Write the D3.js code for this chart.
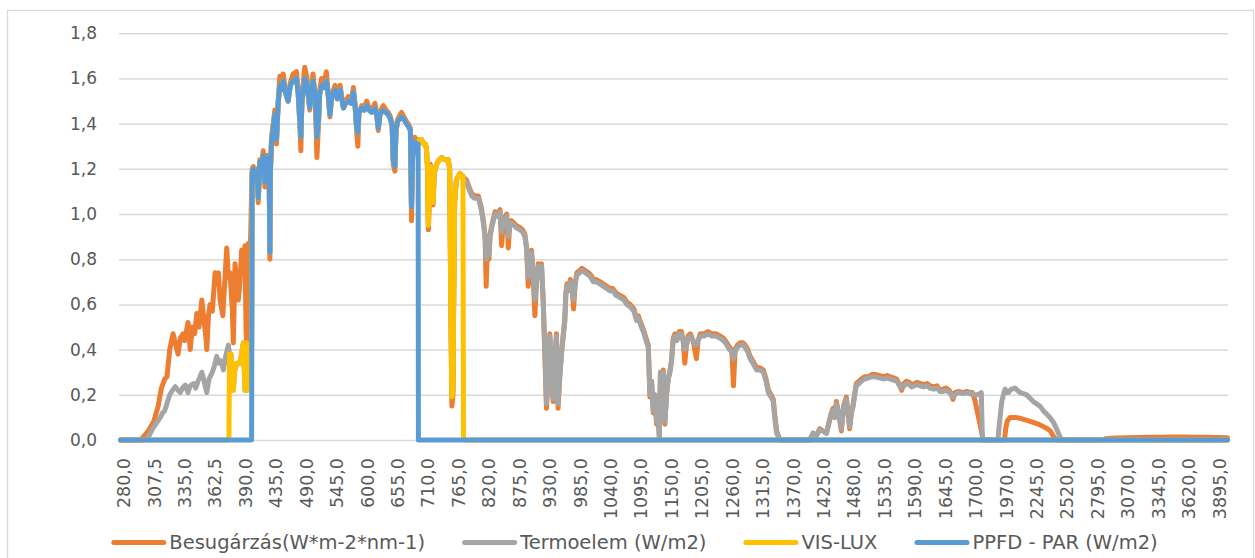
<!DOCTYPE html>
<html>
<head>
<meta charset="utf-8">
<script src="https://cdn.jsdelivr.net/npm/d3@7"></script>
<style>
  body { margin: 0; background: #fff; }
  text { font-family: "DejaVu Sans", sans-serif; fill: #595959; }
</style>
</head>
<body>
<div id="chart"></div>
<script>
// category axis: wavelength (nm) break points of the sampling grid -> category index
const gridNm = [280, 400, 1700, 1702, 1705, 4000];
const gridIdx = [0, 240, 1540, 1541, 1542, 2001];

// tick labels shown on the category axis (every 55th category)
const tickNm = [280, 307.5, 335, 362.5, 390, 435, 490, 545, 600, 655, 710, 765, 820, 875, 930, 985,
  1040, 1095, 1150, 1205, 1260, 1315, 1370, 1425, 1480, 1535, 1590, 1645, 1700,
  1970, 2245, 2520, 2795, 3070, 3345, 3620, 3895];

const yTicks = [0, 0.2, 0.4, 0.6, 0.8, 1.0, 1.2, 1.4, 1.6, 1.8];

// [nm, value]
const besugarzas = [
  [280,0],[298,0],[300,0.01],[305,0.04],[310,0.08],[314,0.15],[317,0.23],[320,0.27],[322,0.28],[324.5,0.4],
  [327.5,0.47],[330,0.42],[332,0.38],[334,0.45],[336.5,0.47],[338,0.44],[341,0.52],[343,0.4],[345,0.5],[347,0.47],
  [349,0.56],[351,0.5],[353.5,0.62],[355,0.55],[357.5,0.44],[358,0.4],[359.5,0.55],[361,0.6],[363,0.57],[365.5,0.74],
  [367,0.72],[368.5,0.74],[370,0.62],[372.5,0.55],[374,0.68],[376,0.85],[377.5,0.72],[379,0.74],[381,0.58],[382,0.43],
  [383.5,0.78],[385,0.7],[386.5,0.62],[388,0.7],[389.5,0.84],[391,0.8],[392.5,0.86],[393.5,0.48],[394,0.43],[395,0.8],
  [395.5,0.87],[396.5,0.5],[397.5,0.88],[398.5,1.1],[399,1.2],
  [400,1.21],[402,1.15],[405,1.18],[407,1.2],[409,1.05],[412,1.24],[415,1.22],[418,1.28],[421,1.12],[424,1.26],
  [427,1.25],[429,1.1],[430,0.8],[431,1.2],[433,1.34],[436,1.4],[439,1.46],[442,1.31],[445,1.5],[448,1.61],
  [451,1.56],[454,1.62],[458,1.55],[463,1.5],[467,1.58],[472,1.62],[478,1.63],[481,1.55],[484,1.4],[486,1.28],
  [488,1.52],[493,1.65],[497,1.6],[502,1.46],[505,1.55],[508,1.62],[512,1.52],[515,1.25],[518,1.4],[520,1.55],
  [523.5,1.6],[528,1.57],[532,1.63],[535,1.55],[538.5,1.43],[542,1.53],[548,1.57],[552,1.52],[557,1.57],[563,1.47],
  [567,1.5],[572,1.52],[577,1.5],[581,1.56],[584,1.48],[587,1.36],[589,1.3],[591,1.45],[596,1.48],[600,1.47],
  [605,1.5],[609,1.47],[614,1.46],[620,1.49],[623,1.45],[626,1.37],[629,1.45],[635,1.48],[640,1.46],[644,1.45],
  [648,1.43],[651,1.4],[653,1.22],[656,1.19],[658,1.38],[661,1.42],[668,1.45],[672,1.43],[677,1.41],[680,1.4],
  [684,1.38],[686,0.97],[688,1.25],[690,1.3],[692,1.34],[695,1.3],[698,1.33],[700,1.33],
  [704,1.33],[708,1.31],[711,1.31],[713,1.29],[715,1.2],[716.5,0.93],[718,1.05],[720,1.22],[722.5,1.19],[725,1.04],
  [727,1.18],[731.5,1.22],[736,1.24],[740.5,1.25],[746,1.24],[752.5,1.24],[755,1.2],[757,0.6],[759,0.15],[761,0.2],
  [762,0.55],[764,1.05],[767,1.15],[773.5,1.18],[777,1.17],[781,1.16],[785.5,1.15],[790,1.12],[795,1.09],[800,1.08],
  [807,1.08],[812,1.03],[816,0.97],[819,0.9],[821,0.68],[823,0.85],[826,0.8],[828,0.91],[832,0.96],[837,1.01],
  [842,1.0],[846,1.02],[849,0.86],[852,0.98],[856,0.99],[858,1.0],[861,0.85],[864,0.97],[867,0.97],[875,0.95],
  [882,0.94],[887,0.93],[891,0.91],[894,0.85],[897,0.68],[900,0.78],[903,0.84],[906,0.72],[909,0.55],[912,0.7],
  [915,0.78],[918,0.76],[921,0.78],[924,0.62],[927,0.38],[930,0.14],[933,0.3],[936,0.47],[939,0.3],[942,0.17],
  [945,0.35],[948,0.47],[951,0.14],[954,0.28],[957,0.38],[960,0.46],[963,0.53],[965,0.65],[967,0.69],[970,0.67],
  [973,0.71],[976,0.68],[979,0.58],[982,0.7],[985,0.74],[990,0.75],[994,0.76],[1000,0.75],[1006,0.74],[1010,0.73],
  [1015,0.71],[1020,0.71],[1027,0.7],[1033,0.69],[1039,0.68],[1045,0.67],[1050,0.67],[1056,0.65],[1063,0.64],[1070,0.63],
  [1075,0.61],[1081,0.6],[1088,0.58],[1093,0.53],[1096,0.55],[1100,0.52],[1105,0.49],[1110,0.45],[1114,0.42],[1117,0.19],
  [1120,0.26],[1123,0.12],[1126,0.2],[1129,0.07],[1131,0.15],[1134,0.01],[1136,0.3],[1139,0.28],[1141,0.31],[1144,0.07],
  [1147,0.2],[1150,0.27],[1153,0.3],[1156,0.35],[1159,0.45],[1162,0.47],[1166,0.45],[1170,0.48],[1174,0.48],[1177,0.44],
  [1180,0.34],[1183,0.42],[1186,0.46],[1190,0.47],[1195,0.44],[1198,0.4],[1201,0.36],[1204,0.44],[1208,0.47],[1215,0.47],
  [1222,0.48],[1229,0.47],[1236,0.47],[1244,0.46],[1250,0.45],[1256,0.43],[1261,0.41],[1265,0.4],[1268,0.24],[1271,0.4],
  [1275,0.42],[1280,0.43],[1285,0.43],[1289,0.42],[1294,0.4],[1298,0.37],[1303,0.35],[1310,0.32],[1316,0.32],[1322,0.31],
  [1327,0.27],[1331,0.22],[1336,0.2],[1340,0.18],[1343,0.1],[1346,0.04],[1352,0],[1406,0],[1412,0.03],[1418,0.02],
  [1424,0.05],[1430,0.04],[1436,0.03],[1441,0.08],[1445,0.12],[1448,0.14],[1451,0.1],[1454,0.17],[1458,0.12],[1463,0.04],
  [1467,0.15],[1472,0.19],[1475,0.12],[1478,0.05],[1481,0.12],[1484,0.15],[1487,0.2],[1490,0.25],[1495,0.26],[1499,0.27],
  [1505,0.28],[1512,0.28],[1518,0.29],[1524,0.29],[1532,0.285],[1540,0.28],[1546,0.285],[1551,0.28],[1557,0.275],[1563,0.27],
  [1567,0.25],[1572,0.22],[1576,0.25],[1581,0.26],[1586,0.255],[1590,0.24],[1595,0.25],[1600,0.255],[1605,0.25],[1612,0.245],
  [1618,0.25],[1623,0.24],[1630,0.235],[1636,0.24],[1641,0.22],[1647,0.225],[1652,0.23],[1658,0.22],[1662,0.2],[1665,0.18],
  [1668,0.21],[1675,0.215],[1683,0.21],[1690,0.215],[1695,0.21],[1700,0.21],
  [1702,0.2],[1715,0.18],[1733,0.14],[1750,0.1],[1763,0.07],[1780,0.03],[1793,0],[1985,0],[1995,0.05],[2010,0.085],
  [2035,0.1],[2080,0.1],[2125,0.096],[2180,0.088],[2245,0.078],[2300,0.068],[2365,0.052],[2400,0.04],[2425,0.018],[2445,0.005],
  [2460,0],[2870,0],[2900,0.006],[2950,0.008],[3000,0.009],[3100,0.01],[3200,0.011],[3300,0.012],[3400,0.012],[3500,0.013],
  [3600,0.013],[3700,0.012],[3800,0.012],[3900,0.011],[4000,0.01]
];

const termoelem = [
  [280,0],[303,0],[306,0.02],[309,0.05],[312.5,0.075],[316,0.1],[318,0.12],[320,0.13],[322.5,0.17],[324.5,0.2],
  [327,0.22],[329.5,0.236],[332,0.22],[334,0.21],[336,0.23],[338.5,0.243],[341,0.21],[343,0.24],[346,0.25],[348,0.23],
  [350,0.26],[352,0.28],[353.5,0.3],[355.5,0.26],[358,0.21],[360,0.27],[361,0.28],[363,0.3],[365,0.33],[367,0.37],
  [369,0.34],[371,0.35],[373,0.31],[375,0.37],[377.5,0.42],[378.5,0.38],[380,0.38],[381,0.3],[382,0.22],[383,0.3],
  [385,0.34],[388,0.34],[390,0.4],[391,0.43],[392.5,0.22],[393.5,0.4],[394,0.43],[394.5,0.22],[395.5,0.3],[396.5,0.4],
  [398.5,0.42],[399,1.18],
  [400,1.2],[402,1.15],[405,1.18],[407,1.19],[409,1.07],[412,1.23],[415,1.21],[418,1.26],[421,1.14],[424,1.25],
  [427,1.24],[429,1.12],[430,0.83],[431,1.19],[433,1.32],[436,1.38],[439,1.44],[442,1.33],[445,1.49],[448,1.57],
  [451,1.55],[454,1.59],[458,1.54],[463,1.5],[467,1.57],[472,1.59],[478,1.6],[481,1.54],[484,1.42],[486,1.34],
  [488,1.5],[493,1.6],[497,1.58],[502,1.47],[505,1.54],[508,1.59],[512,1.52],[515,1.34],[518,1.42],[520,1.53],
  [523.5,1.57],[528,1.56],[532,1.59],[535,1.54],[538.5,1.44],[542,1.52],[548,1.55],[552,1.51],[557,1.55],[563,1.47],
  [567,1.49],[572,1.5],[577,1.49],[581,1.54],[584,1.48],[587,1.38],[589,1.36],[591,1.45],[596,1.47],[600,1.46],
  [605,1.48],[609,1.46],[614,1.45],[620,1.47],[623,1.44],[626,1.38],[629,1.44],[635,1.46],[640,1.45],[644,1.44],
  [648,1.42],[651,1.39],[653,1.24],[656,1.21],[658,1.37],[661,1.41],[668,1.43],[672,1.42],[677,1.4],[680,1.39],
  [684,1.37],[686,1.03],[688,1.25],[690,1.29],[692,1.32],[695,1.3],[698,1.31],[700,1.33],
  [704,1.33],[708,1.31],[711,1.31],[713,1.29],[715,1.21],[716.5,0.95],[718,1.06],[720,1.21],[722.5,1.19],[725,1.05],
  [727,1.18],[731.5,1.22],[736,1.24],[740.5,1.25],[746,1.24],[752.5,1.24],[755,1.2],[757,0.62],[759,0.19],[761,0.22],
  [762,0.56],[764,1.05],[767,1.15],[773.5,1.18],[777,1.17],[781,1.15],[785.5,1.14],[790,1.11],[795,1.08],[800,1.07],
  [807,1.07],[812,1.02],[816,0.96],[819,0.9],[821,0.8],[823,0.86],[826,0.82],[828,0.9],[832,0.95],[837,1.0],
  [842,0.99],[846,1.01],[849,0.92],[852,0.97],[856,0.98],[858,0.99],[861,0.9],[864,0.96],[867,0.96],[875,0.94],
  [882,0.93],[887,0.92],[891,0.9],[894,0.85],[897,0.72],[900,0.78],[903,0.83],[906,0.72],[909,0.62],[912,0.7],
  [915,0.77],[918,0.75],[921,0.77],[924,0.62],[927,0.4],[930,0.16],[933,0.3],[936,0.46],[939,0.31],[942,0.18],
  [945,0.35],[948,0.46],[951,0.16],[954,0.28],[957,0.38],[960,0.45],[963,0.52],[965,0.64],[967,0.68],[970,0.66],
  [973,0.7],[976,0.67],[979,0.62],[982,0.69],[985,0.73],[990,0.74],[994,0.75],[1000,0.74],[1006,0.73],[1010,0.72],
  [1015,0.7],[1020,0.7],[1027,0.69],[1033,0.68],[1039,0.67],[1045,0.66],[1050,0.66],[1056,0.64],[1063,0.63],[1070,0.62],
  [1075,0.6],[1081,0.59],[1088,0.57],[1093,0.53],[1096,0.54],[1100,0.51],[1105,0.48],[1110,0.44],[1114,0.41],[1117,0.2],
  [1120,0.26],[1123,0.13],[1126,0.2],[1129,0.08],[1131,0.15],[1134,0.01],[1136,0.3],[1139,0.28],[1141,0.3],[1144,0.08],
  [1147,0.2],[1150,0.27],[1153,0.3],[1156,0.35],[1159,0.44],[1162,0.46],[1166,0.44],[1170,0.47],[1174,0.47],[1177,0.44],
  [1180,0.4],[1183,0.42],[1186,0.45],[1190,0.46],[1195,0.44],[1198,0.42],[1201,0.42],[1204,0.44],[1208,0.46],[1215,0.46],
  [1222,0.47],[1229,0.46],[1236,0.46],[1244,0.45],[1250,0.44],[1256,0.42],[1261,0.4],[1265,0.39],[1268,0.36],[1271,0.39],
  [1275,0.41],[1280,0.42],[1285,0.42],[1289,0.41],[1294,0.39],[1298,0.36],[1303,0.34],[1310,0.31],[1316,0.31],[1322,0.3],
  [1327,0.26],[1331,0.21],[1336,0.19],[1340,0.17],[1343,0.09],[1346,0.03],[1352,0],[1406,0],[1412,0.03],[1418,0.02],
  [1424,0.045],[1430,0.04],[1436,0.03],[1441,0.08],[1445,0.12],[1448,0.13],[1451,0.1],[1454,0.16],[1458,0.12],[1463,0.05],
  [1467,0.14],[1472,0.18],[1475,0.12],[1478,0.06],[1481,0.12],[1484,0.15],[1487,0.2],[1490,0.24],[1495,0.25],[1499,0.26],
  [1505,0.27],[1512,0.275],[1518,0.28],[1524,0.28],[1532,0.275],[1540,0.27],[1546,0.275],[1551,0.27],[1557,0.265],[1563,0.26],
  [1567,0.245],[1572,0.23],[1576,0.24],[1581,0.25],[1586,0.245],[1590,0.235],[1595,0.24],[1600,0.245],[1605,0.24],[1612,0.235],
  [1618,0.24],[1623,0.23],[1630,0.225],[1636,0.23],[1641,0.215],[1647,0.215],[1652,0.22],[1658,0.21],[1662,0.2],[1665,0.19],
  [1668,0.2],[1675,0.21],[1683,0.205],[1690,0.21],[1695,0.205],[1700,0.205],
  [1702,0.2],[1720,0.2],[1740,0.2],[1760,0.205],[1775,0.21],[1780,0.1],[1785,0],[1925,0],[1940,0.08],[1960,0.17],
  [1975,0.2],[1990,0.225],[2005,0.21],[2020,0.21],[2035,0.22],[2050,0.225],[2080,0.23],[2100,0.22],[2125,0.21],[2155,0.205],
  [2185,0.2],[2215,0.185],[2245,0.17],[2275,0.16],[2305,0.15],[2335,0.13],[2365,0.115],[2395,0.1],[2425,0.08],[2455,0.05],
  [2485,0.015],[2500,0],[4000,0]
];

const visLux = [
  [280,0],[378,0],[378.5,0.38],[380,0.38],[381,0.3],[382,0.22],[383,0.3],[385,0.34],[388,0.34],[390,0.4],
  [391,0.43],[392.5,0.22],[393.5,0.4],[394,0.43],[394.5,0.22],[395.5,0.3],[396.5,0.4],[398.5,0.42],[399,1.18],
  [400,1.2],[402,1.15],[405,1.18],[407,1.19],[409,1.07],[412,1.23],[415,1.21],[418,1.26],[421,1.14],[424,1.25],
  [427,1.24],[429,1.12],[430,0.83],[431,1.19],[433,1.32],[436,1.38],[439,1.44],[442,1.33],[445,1.49],[448,1.57],
  [451,1.55],[454,1.59],[458,1.54],[463,1.5],[467,1.57],[472,1.59],[478,1.6],[481,1.54],[484,1.42],[486,1.34],
  [488,1.5],[493,1.6],[497,1.58],[502,1.47],[505,1.54],[508,1.59],[512,1.52],[515,1.34],[518,1.42],[520,1.53],
  [523.5,1.57],[528,1.56],[532,1.59],[535,1.54],[538.5,1.44],[542,1.52],[548,1.55],[552,1.51],[557,1.55],[563,1.47],
  [567,1.49],[572,1.5],[577,1.49],[581,1.54],[584,1.48],[587,1.38],[589,1.36],[591,1.45],[596,1.47],[600,1.46],
  [605,1.48],[609,1.46],[614,1.45],[620,1.47],[623,1.44],[626,1.38],[629,1.44],[635,1.46],[640,1.45],[644,1.44],
  [648,1.42],[651,1.39],[653,1.24],[656,1.21],[658,1.37],[661,1.41],[668,1.43],[672,1.42],[677,1.4],[680,1.39],
  [684,1.37],[686,1.03],[688,1.25],[690,1.29],[692,1.32],[695,1.3],[698,1.31],[700,1.33],
  [704,1.33],[708,1.31],[711,1.31],[713,1.29],[715,1.21],[716.5,0.95],[718,1.06],[720,1.21],[722.5,1.19],[725,1.05],
  [727,1.18],[731.5,1.22],[736,1.24],[740.5,1.25],[746,1.24],[752.5,1.24],[755,1.2],[757,0.62],[759,0.19],[761,0.22],
  [762,0.56],[764,1.05],[767,1.15],[773.5,1.18],[777,1.17],[779,1.17],[780,0],[4000,0]
];

const ppfdPar = [
  [280,0],[398.5,0],[399,1.18],
  [400,1.2],[402,1.15],[405,1.18],[407,1.19],[409,1.07],[412,1.23],[415,1.21],[418,1.26],[421,1.14],[424,1.25],
  [427,1.24],[429,1.12],[430,0.83],[431,1.19],[433,1.32],[436,1.38],[439,1.44],[442,1.33],[445,1.49],[448,1.57],
  [451,1.55],[454,1.59],[458,1.54],[463,1.5],[467,1.57],[472,1.59],[478,1.6],[481,1.54],[484,1.42],[486,1.34],
  [488,1.5],[493,1.6],[497,1.58],[502,1.47],[505,1.54],[508,1.59],[512,1.52],[515,1.34],[518,1.42],[520,1.53],
  [523.5,1.57],[528,1.56],[532,1.59],[535,1.54],[538.5,1.44],[542,1.52],[548,1.55],[552,1.51],[557,1.55],[563,1.47],
  [567,1.49],[572,1.5],[577,1.49],[581,1.54],[584,1.48],[587,1.38],[589,1.36],[591,1.45],[596,1.47],[600,1.46],
  [605,1.48],[609,1.46],[614,1.45],[620,1.47],[623,1.44],[626,1.38],[629,1.44],[635,1.46],[640,1.45],[644,1.44],
  [648,1.42],[651,1.39],[653,1.24],[656,1.21],[658,1.37],[661,1.41],[668,1.43],[672,1.42],[677,1.4],[680,1.39],
  [684,1.37],[686,1.03],[688,1.25],[690,1.29],[692,1.32],[695,1.3],[698,1.31],[698.5,0],[4000,0]
];

const series = [
  { name: "Besugárzás(W*m-2*nm-1)", data: besugarzas, color: "#ED7D31" },
  { name: "Termoelem (W/m2)", data: termoelem, color: "#A5A5A5" },
  { name: "VIS-LUX", data: visLux, color: "#FFC000" },
  { name: "PPFD - PAR (W/m2)", data: ppfdPar, color: "#5B9BD5" }
];

const W = 1255, H = 558;
const plot = { left: 119, right: 1228, top: 33.3, bottom: 440 };

const svg = d3.select("#chart").append("svg")
  .attr("width", W).attr("height", H);

svg.append("rect")
  .attr("x", 7.5).attr("y", 10.5).attr("width", 1246).attr("height", 560)
  .attr("fill", "#fff").attr("stroke", "#D9D9D9").attr("stroke-width", 1.3);

const fmt = d3.formatLocale({ decimal: ",", thousands: " ", grouping: [3], currency: ["", ""] }).format(".1f");

// category index -> pixel, and nm -> pixel through the category grid
const xIdx = d3.scaleLinear().domain([0, 2001]).range([120.5, 1227.5]);
const x = d3.scaleLinear().domain(gridNm).range(gridIdx.map(xIdx));
const y = d3.scaleLinear().domain([0, 1.8]).range([plot.bottom, plot.top]);

const gy = svg.append("g")
  .attr("transform", "translate(" + plot.left + ",0)")
  .call(d3.axisLeft(y).tickValues(yTicks).tickFormat(fmt)
    .tickSize(-(plot.right - plot.left)).tickPadding(22));
gy.select(".domain").remove();
gy.selectAll(".tick line").attr("stroke", "#D9D9D9").attr("stroke-width", 1.5);
gy.selectAll(".tick text").attr("font-size", 17).attr("fill", "#595959")
  .style("font-family", "'DejaVu Sans', sans-serif");

const gx = svg.append("g")
  .attr("transform", "translate(0," + plot.bottom + ")")
  .call(d3.axisBottom(x).tickValues(tickNm).tickFormat(fmt).tickSize(0));
gx.select(".domain").remove();
gx.selectAll(".tick text")
  .attr("transform", "rotate(-90)")
  .attr("text-anchor", "end")
  .attr("x", -18).attr("y", 3).attr("dy", "0.35em")
  .attr("font-size", 17.5).attr("fill", "#595959")
  .style("font-family", "'DejaVu Sans', sans-serif");

const line = d3.line()
  .x(d => x(d[0]))
  .y(d => y(d[1]));

svg.append("g").selectAll("path")
  .data(series)
  .join("path")
  .attr("d", d => line(d.data))
  .attr("fill", "none")
  .attr("stroke", d => d.color)
  .attr("stroke-width", 5)
  .attr("stroke-linejoin", "round")
  .attr("stroke-linecap", "round");

// legend, centred under the plot
const legY = 542.5, swatch = 50, gapText = 6, gapItem = 37;
const leg = svg.append("g");
const items = leg.selectAll("g").data(series).join("g");
items.append("line")
  .attr("x1", 2.5).attr("x2", 2.5 + swatch).attr("y1", legY).attr("y2", legY)
  .attr("stroke", d => d.color).attr("stroke-width", 5).attr("stroke-linecap", "round");
items.append("text")
  .attr("x", swatch + 5 + gapText - 3).attr("y", legY).attr("dy", "0.35em")
  .attr("font-size", 19.5)
  .text(d => d.name);

let cx = 0;
const widths = [];
items.each(function () {
  const w = this.querySelector("text").getComputedTextLength();
  widths.push(swatch + 5 + gapText - 3 + w);
});
const total = d3.sum(widths) + gapItem * (widths.length - 1);
let start = 634.5 - total / 2;
items.attr("transform", (d, i) => {
  const t = "translate(" + start + ",0)";
  start += widths[i] + gapItem;
  return t;
});
</script>
</body>
</html>
